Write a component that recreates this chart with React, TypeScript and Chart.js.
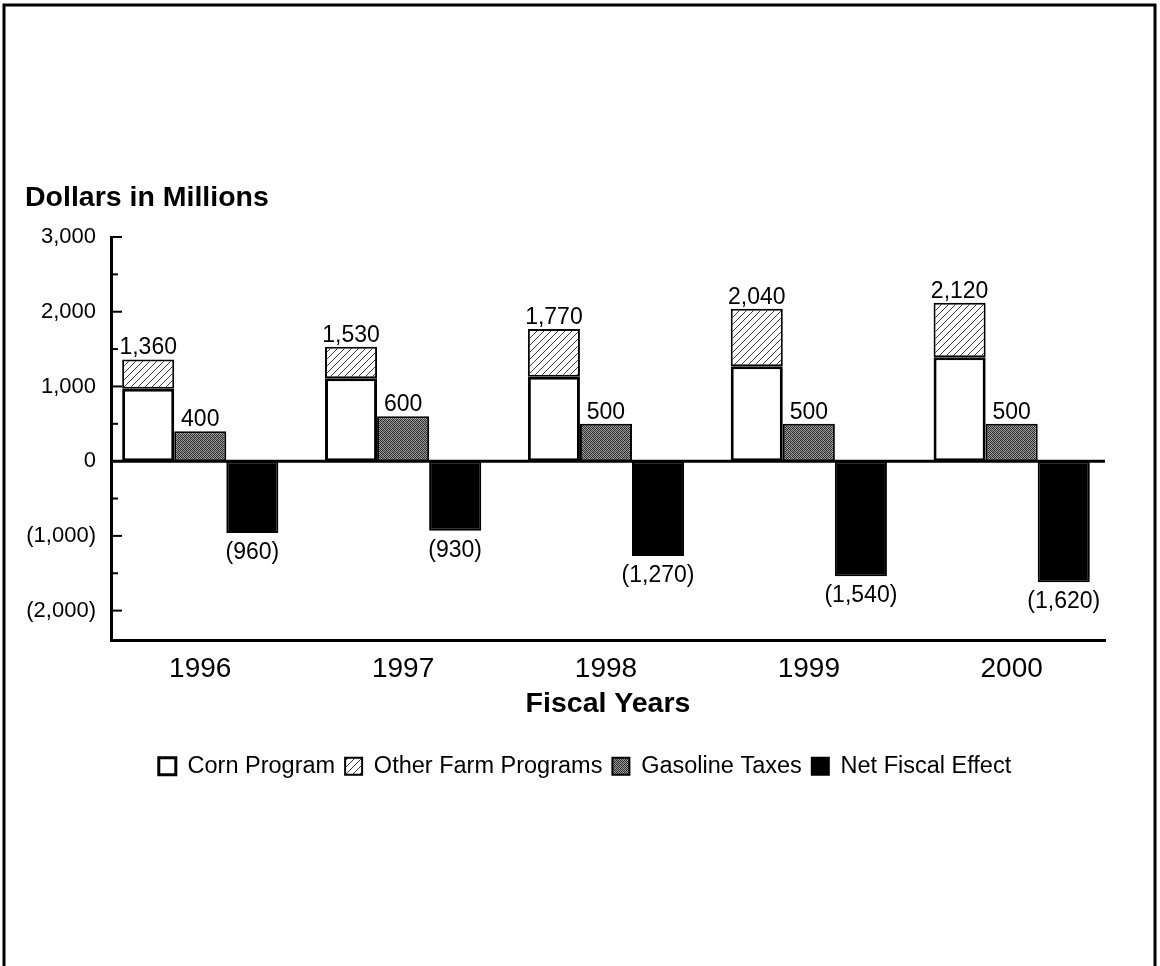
import React, { useEffect, useRef } from "react";
import { Chart, registerables } from "chart.js";

Chart.register(...registerables);

// ---- data ----
const years = ["1996", "1997", "1998", "1999", "2000"];
const cornProgram = [970, 1110, 1130, 1270, 1390];
const otherFarmPrograms = [390, 420, 640, 770, 730];
const gasolineTaxes = [400, 600, 500, 500, 500];
const netFiscalEffect = [-960, -930, -1270, -1540, -1620];
const seriesNames = ["Corn Program", "Other Farm Programs", "Gasoline Taxes", "Net Fiscal Effect"];
const yTickValues = [-2000, -1500, -1000, -500, 0, 500, 1000, 1500, 2000, 2500, 3000];
const yMajorStep = 1000;
const yMin = -2400;
const yMax = 3000;
const yTitle = "Dollars in Millions";
const xTitle = "Fiscal Years";

const FONT = "'Liberation Sans', Arial, Helvetica, sans-serif";

function fmt(v: number): string {
  const s = Math.abs(v).toLocaleString("en-US");
  return v < 0 ? `(${s})` : s;
}

function makeHatch(): CanvasPattern | string {
  const c = document.createElement("canvas");
  const n = 7;
  c.width = n;
  c.height = n;
  const g = c.getContext("2d");
  if (!g) return "#ddd";
  g.fillStyle = "#ffffff";
  g.fillRect(0, 0, n, n);
  g.strokeStyle = "#3a3a3a";
  g.lineWidth = 1;
  g.beginPath();
  g.moveTo(0, n);
  g.lineTo(n, 0);
  g.moveTo(-1, 1);
  g.lineTo(1, -1);
  g.moveTo(n - 1, n + 1);
  g.lineTo(n + 1, n - 1);
  g.stroke();
  const p = g.createPattern(c, "repeat");
  return p || "#ddd";
}

function makeStipple(): CanvasPattern | string {
  const c = document.createElement("canvas");
  const vals = [
    [30, 150, 60, 170],
    [160, 50, 140, 40],
    [70, 170, 30, 150],
    [140, 40, 160, 60],
  ];
  c.width = 4;
  c.height = 4;
  const g = c.getContext("2d");
  if (!g) return "#666";
  const img = g.createImageData(4, 4);
  for (let y = 0; y < 4; y++) {
    for (let x = 0; x < 4; x++) {
      const k = (y * 4 + x) * 4;
      const v = vals[y][x];
      img.data[k] = v;
      img.data[k + 1] = v;
      img.data[k + 2] = v;
      img.data[k + 3] = 255;
    }
  }
  g.putImageData(img, 0, 0);
  const p = g.createPattern(c, "repeat");
  return p || "#666";
}

const framePlugin = {
  id: "frame",
  beforeDraw(chart: any) {
    const { ctx, width, height } = chart;
    ctx.save();
    ctx.fillStyle = "#ffffff";
    ctx.fillRect(0, 0, width, height);
    ctx.strokeStyle = "#000";
    ctx.lineWidth = 3;
    ctx.beginPath();
    ctx.moveTo(4, height + 2);
    ctx.lineTo(4, 5);
    ctx.lineTo(width - 5, 5);
    ctx.lineTo(width - 5, height + 2);
    ctx.stroke();
    ctx.restore();
  },
};

// nudge the centred legend row so it sits under the plot as in the source
const legendNudgePlugin = {
  id: "legendNudge",
  afterLayout(chart: any) {
    const lg = chart.legend;
    if (lg) {
      lg.left += 20;
      lg.right += 20;
    }
  },
};

// axis titles: value-axis title above the axis, category title under the year labels
const axisTitlesPlugin = {
  id: "axisTitles",
  afterDraw(chart: any) {
    const { ctx, chartArea } = chart;
    ctx.save();
    ctx.fillStyle = "#000";
    ctx.font = `bold 28.5px ${FONT}`;
    ctx.textBaseline = "middle";
    ctx.textAlign = "left";
    ctx.fillText(yTitle, chartArea.left - 86, chartArea.top - 39);
    ctx.textAlign = "center";
    ctx.fillText(xTitle, (chartArea.left + chartArea.right) / 2, chartArea.bottom + 64);
    ctx.restore();
  },
};

const axisDecorPlugin = {
  id: "axisDecor",
  beforeDatasetsDraw(chart: any) {
    const { ctx, chartArea, scales } = chart;
    const y = scales.y;
    ctx.save();
    ctx.strokeStyle = "#000";
    ctx.lineWidth = 3;
    const y0 = y.getPixelForValue(0);
    ctx.beginPath();
    ctx.moveTo(chartArea.left, y0);
    ctx.lineTo(chartArea.right, y0);
    ctx.stroke();
    ctx.lineWidth = 2;
    yTickValues.forEach((v) => {
      const py = y.getPixelForValue(v);
      const len = v % yMajorStep === 0 ? 11 : 7;
      ctx.beginPath();
      ctx.moveTo(chartArea.left, py);
      ctx.lineTo(chartArea.left + len, py);
      ctx.stroke();
    });
    ctx.restore();
  },
};

const valueLabelPlugin = {
  id: "valueLabels",
  afterDatasetsDraw(chart: any) {
    const { ctx } = chart;
    const mOther = chart.getDatasetMeta(1);
    const mGas = chart.getDatasetMeta(2);
    const mNet = chart.getDatasetMeta(3);
    ctx.save();
    ctx.fillStyle = "#000";
    ctx.font = `23px ${FONT}`;
    ctx.textAlign = "center";
    years.forEach((_, i) => {
      const eo = mOther.data[i];
      const eg = mGas.data[i];
      const en = mNet.data[i];
      ctx.textBaseline = "bottom";
      ctx.fillText(fmt(cornProgram[i] + otherFarmPrograms[i]), eo.x, eo.y);
      ctx.fillText(fmt(gasolineTaxes[i]), eg.x, eg.y);
      ctx.textBaseline = "top";
      ctx.fillText(fmt(netFiscalEffect[i]), en.x, en.y + 8);
    });
    ctx.restore();
  },
};

export default function App() {
  const ref = useRef<HTMLCanvasElement | null>(null);

  useEffect(() => {
    if (!ref.current) return;
    const hatch = makeHatch();
    const stipple = makeStipple();
    const toXY = (arr: number[]) => arr.map((v, i) => ({ x: i, y: v }));
    const common = {
      borderColor: "#000",
      borderSkipped: false,
      categoryPercentage: 0.77,
      barPercentage: 1,
    };
    const chart = new Chart(ref.current, {
      type: "bar",
      data: {
        datasets: [
          { ...common, label: seriesNames[0], data: toXY(cornProgram), backgroundColor: "#ffffff", borderWidth: 3, stack: "farm" },
          { ...common, label: seriesNames[1], data: toXY(otherFarmPrograms), backgroundColor: hatch, borderWidth: 2, stack: "farm" },
          { ...common, label: seriesNames[2], data: toXY(gasolineTaxes), backgroundColor: stipple, borderWidth: 2, stack: "gas" },
          { ...common, label: seriesNames[3], data: toXY(netFiscalEffect), backgroundColor: "#000000", borderWidth: 2, stack: "net" },
        ],
      } as any,
      options: {
        animation: false,
        responsive: false,
        devicePixelRatio: 1,
        layout: { padding: { top: 237, left: 25, right: 55, bottom: 178 } },
        plugins: {
          tooltip: { enabled: false },
          title: { display: false },
          legend: {
            display: true,
            position: "bottom",
            align: "center",
            labels: {
              color: "#000",
              font: { family: FONT, size: 23.5 },
              boxWidth: 17,
              boxHeight: 17,
              padding: 10,
            },
          },
        },
        scales: {
          x: {
            type: "linear",
            offset: false,
            min: -0.44,
            max: 4.46,
            grid: { display: false, drawTicks: false, offset: false },
            border: { display: true, color: "#000", width: 3 },
            afterBuildTicks: (scale: any) => {
              scale.ticks = years.map((_, i) => ({ value: i }));
            },
            afterFit: (scale: any) => {
              scale.height = 104;
            },
            ticks: {
              color: "#000",
              padding: 15,
              font: { family: FONT, size: 28, lineHeight: 1 },
              callback: (v: any) => years[Number(v)] ?? "",
            },
            title: { display: false },
          },
          y: {
            type: "linear",
            min: yMin,
            max: yMax,
            stacked: true,
            grid: { display: false, drawTicks: false },
            border: { display: true, color: "#000", width: 3 },
            afterBuildTicks: (scale: any) => {
              scale.ticks = yTickValues.map((v) => ({ value: v }));
            },
            afterFit: (scale: any) => {
              scale.width = 86;
            },
            ticks: {
              color: "#000",
              padding: 15,
              font: { family: FONT, size: 22 },
              callback: (v: any) => (Number(v) % yMajorStep === 0 ? fmt(Number(v)) : ""),
            },
          },
        },
      } as any,
      plugins: [framePlugin, legendNudgePlugin, axisDecorPlugin, valueLabelPlugin, axisTitlesPlugin],
    });
    return () => chart.destroy();
  }, []);

  return (
    <div style={{ position: "absolute", left: 0, top: 0, width: 1160, height: 966, overflow: "hidden", background: "#fff" }}>
      <canvas ref={ref} width={1160} height={966} style={{ display: "block", width: 1160, height: 966 }} />
    </div>
  );
}
